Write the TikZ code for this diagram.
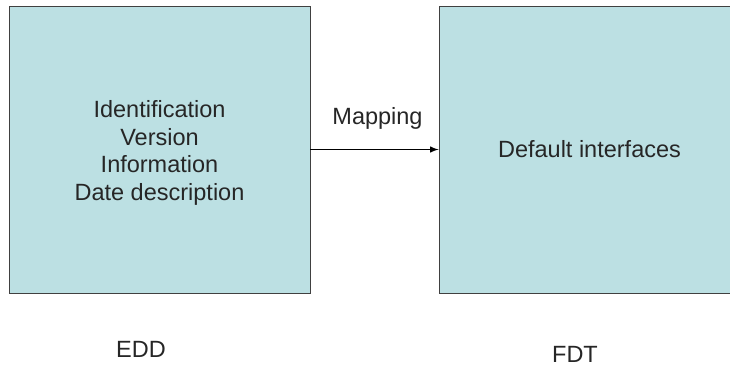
\documentclass[tikz,border=0pt]{standalone}
\usepackage{fontspec}
\setmainfont{Liberation Sans}
\definecolor{boxfill}{HTML}{BCE0E3}
\definecolor{ink}{HTML}{262626}
\begin{document}
\begin{tikzpicture}[x=1pt,y=-1pt]
        \tikzstyle{every node}=[text=ink, font=\fontsize{23.5}{27.5}\selectfont];
        \tikzstyle{block}=[rectangle, draw=black!75, fill=boxfill, line width=0.9pt, minimum width=301pt, minimum height=287pt, align=center];
        \tikzstyle{tag}=[inner sep=0pt];
        \useasboundingbox (0,0) rectangle (730,367);
        \node (edd) [block] at (159.5,149.5) {\raisebox{-4pt}[\height][\depth]{\begin{tabular}{@{}c@{}}Identification\\Version\\Information\\Date description\end{tabular}}};
        \node (fdt) [block] at (589.5,149.5) {Default interfaces};
        \draw[-latex, line width=1.9pt] (edd.east) -- (fdt.west) node[midway, above=16pt, xshift=3pt] {Mapping};
        \node (eddname) [tag] at (141,349) {EDD};
        \node (fdtname) [tag] at (575,354.5) {FDT};
    \end{tikzpicture}
\end{document}
